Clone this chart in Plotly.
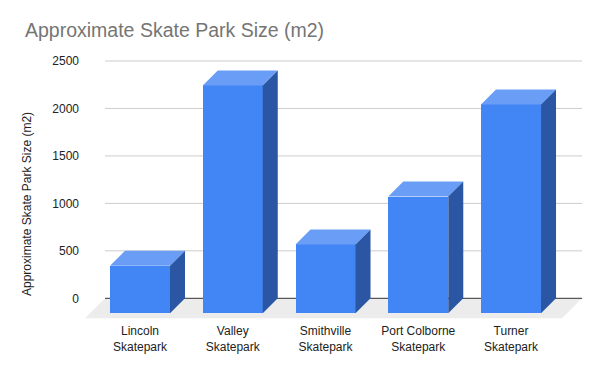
import plotly.graph_objects as go

# ---- data ----
categories = ["Lincoln<br>Skatepark", "Valley<br>Skatepark", "Smithville<br>Skatepark",
              "Port Colborne<br>Skatepark", "Turner<br>Skatepark"]
sizes = [500, 2400, 725, 1230, 2200]
y_ticks = [0, 500, 1000, 1500, 2000, 2500]

# ---- styling / geometry constants ----
FRONT = "#4285F4"
TOP = "#6A9EF6"
SIDE = "#2A56A3"
FLOOR = "#ECECEC"
GRID = "#CCCCCC"
FONT = "Liberation Sans, Arial, sans-serif"

BAR_W = 0.647          # bar width in category units
DX = 0.1617            # depth offset (x, category units)
DY = 158.0             # depth offset (y, value units)
FLOOR_DY = 211.0       # floor depth in value units
FLOOR_DX = 0.2157

n = len(categories)
xs = list(range(n))

fig = go.Figure()

# front faces
fig.add_trace(go.Bar(x=xs, y=sizes, base=[-DY] * n, width=BAR_W,
                     marker=dict(color=FRONT, line=dict(width=0)),
                     hoverinfo="skip", showlegend=False))

# top and side faces
for x, v in zip(xs, sizes):
    l, r = x - BAR_W / 2, x + BAR_W / 2
    fig.add_trace(go.Scatter(
        x=[l, r, r + DX, l + DX, l], y=[v - DY, v - DY, v, v, v - DY],
        fill="toself", fillcolor=TOP, mode="lines", line=dict(width=0, color=TOP),
        hoverinfo="skip", showlegend=False))
    fig.add_trace(go.Scatter(
        x=[r, r + DX, r + DX, r, r], y=[-DY, 0, v, v - DY, -DY],
        fill="toself", fillcolor=SIDE, mode="lines", line=dict(width=0, color=SIDE),
        hoverinfo="skip", showlegend=False))

# back-plane extent
back_left = -0.377
back_right = n - 1 + 0.766

shapes = []
# floor
shapes.append(dict(
    type="path", xref="x", yref="y", layer="below",
    path=f"M {back_left},0 L {back_right},0 L {back_right - FLOOR_DX},{-FLOOR_DY} "
         f"L {back_left - FLOOR_DX},{-FLOOR_DY} Z",
    fillcolor=FLOOR, line=dict(width=0)))
# gridlines
for t in y_ticks:
    shapes.append(dict(type="line", xref="x", yref="y", layer="below",
                       x0=back_left, x1=back_right, y0=t, y1=t,
                       line=dict(color="#333333" if t == 0 else GRID, width=1)))

fig.update_layout(
    width=600, height=371,
    margin=dict(l=77, r=25, t=47, b=60),
    paper_bgcolor="white", plot_bgcolor="white",
    font=dict(family=FONT, size=12, color="#222222"),
    title=dict(text="Approximate Skate Park Size (m2)", x=17 / 600, xanchor="left",
               xref="container", y=1 - 22 / 371, yanchor="middle", yref="container",
               font=dict(family=FONT, size=19.5, color="#757575")),
    shapes=shapes,
    bargap=0,
    xaxis=dict(range=[-0.593, 4.776], tickvals=xs, ticktext=categories,
               showgrid=False, zeroline=False, showline=False, ticks="",
               ticklabelstandoff=3,
               tickfont=dict(size=12, color="#222222"), fixedrange=True),
    yaxis=dict(range=[-218, 2563], tickvals=y_ticks, ticktext=[str(t) for t in y_ticks],
               showgrid=False, zeroline=False, showline=False, ticks="",
               ticklabelstandoff=5,
               tickfont=dict(size=12, color="#222222"), fixedrange=True),
    annotations=[dict(text="Approximate Skate Park Size (m2)", xref="paper", yref="paper",
                      x=(27 - 85) / 498, y=(319 - 204) / 264, textangle=-90,
                      showarrow=False, xanchor="center", yanchor="middle",
                      font=dict(family=FONT, size=12, color="#222222"))],
)

fig.write_html("out.html")
